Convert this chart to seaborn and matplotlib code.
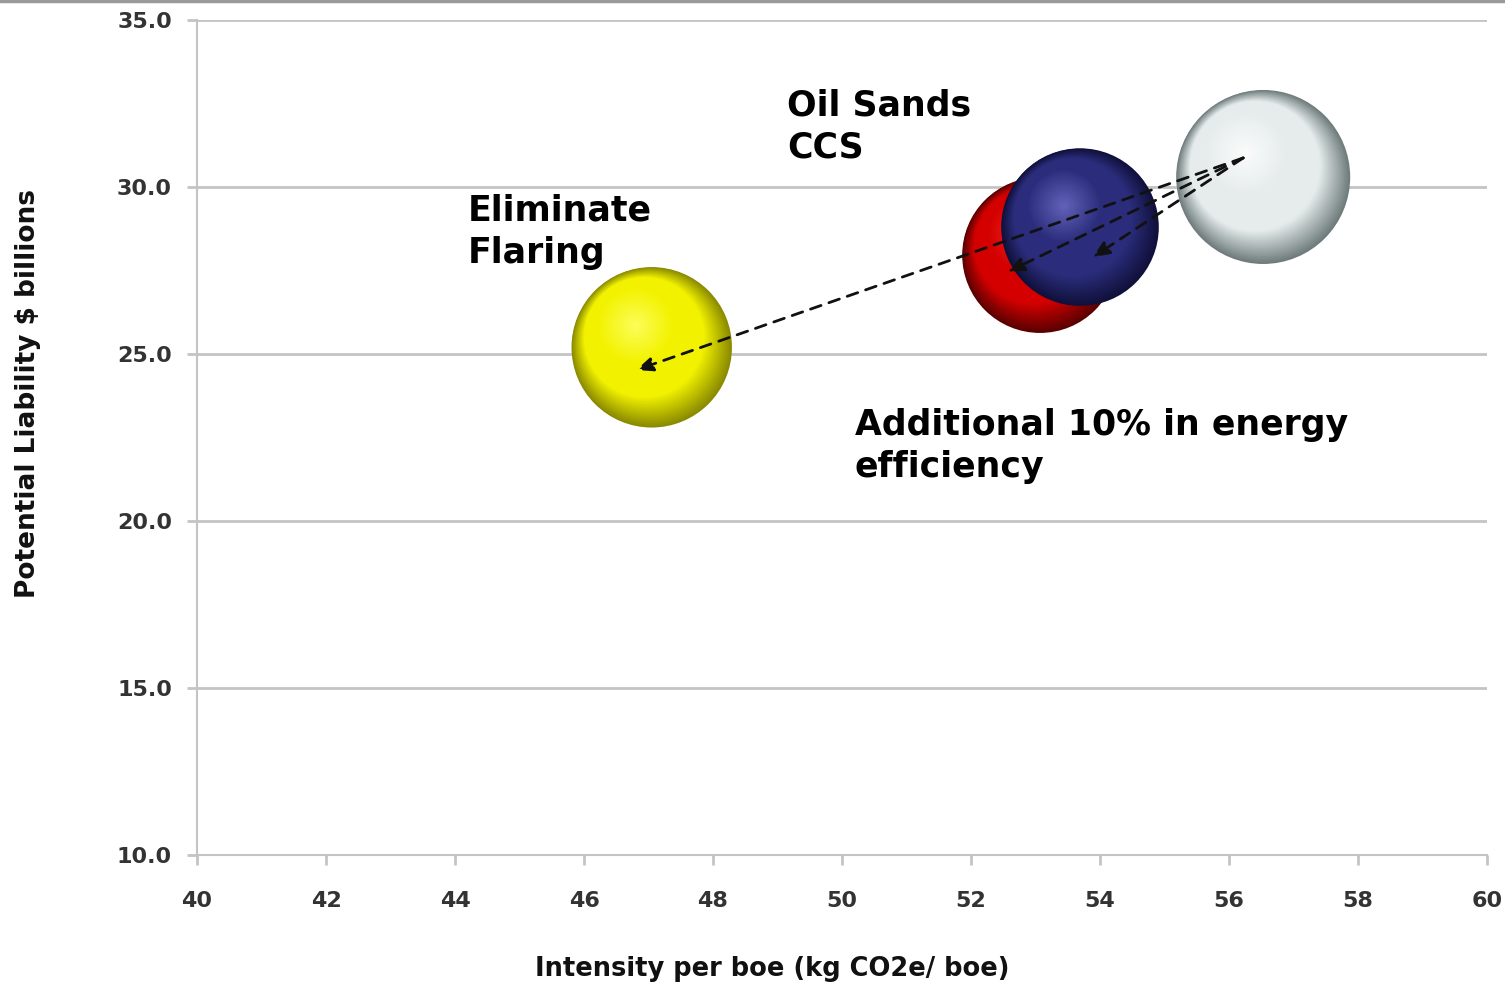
import numpy as np
import pandas as pd
import matplotlib
matplotlib.use("Agg")
import matplotlib.pyplot as plt
from matplotlib.colors import to_rgb
from matplotlib.lines import Line2D
import seaborn as sns

# ---------------- data ----------------
scenario = ["Current", "Oil Sands CCS", "Energy efficiency", "Eliminate Flaring"]
intensity = [56.53, 53.07, 53.69, 47.05]          # kg CO2e / boe
liability = [30.3, 27.96, 28.8, 25.2]             # $ billions
bubble_size = [1.00, 0.80, 0.82, 0.85]            # relative bubble area

# arrows: from current position to each scenario
arrow_start = (56.22, 30.87)
arrow_end_x = [46.81, 52.57, 53.89]
arrow_end_y = [24.52, 27.46, 27.90]

# annotation labels
label_text = ["Oil Sands\nCCS", "Eliminate\nFlaring", "Additional 10% in energy\nefficiency"]
label_x = [49.15, 44.2, 50.2]
label_y = [32.95, 29.8, 23.38]

x_ticks = [40, 42, 44, 46, 48, 50, 52, 54, 56, 58, 60]
y_ticks = [10.0, 15.0, 20.0, 25.0, 30.0, 35.0]

# ---------------- styling ----------------
sphere_colors = {
    "Current": ("#6f7c7c", "#e6ecec", "#ffffff"),
    "Oil Sands CCS": ("#5a0000", "#d40000", "#ff3030"),
    "Energy efficiency": ("#10103a", "#2b2d7c", "#7070c8"),
    "Eliminate Flaring": ("#8a8a00", "#f2f200", "#ffff70"),
}
sphere_z = {"Current": 2, "Oil Sands CCS": 3, "Energy efficiency": 4, "Eliminate Flaring": 5}

sns.set_theme(style="white")
plt.rcParams["font.family"] = ["DejaVu Sans"]

DPI = 100
fig = plt.figure(figsize=(15.05, 9.84), dpi=DPI)
ax = fig.add_axes([197 / 1505, 1 - 855 / 984, 1290 / 1505, 835 / 984])
ax.set_xlim(40, 60)
ax.set_ylim(10, 35)

grid_c = "#c4c4c4"
ax.set_xticks(x_ticks)
ax.set_yticks(y_ticks)
ax.set_xticklabels([str(v) for v in x_ticks])
ax.set_yticklabels([f"{v:.1f}" for v in y_ticks])
ax.yaxis.grid(True, color=grid_c, lw=2)
ax.xaxis.grid(False)
ax.set_axisbelow(True)
for s in ["top", "right"]:
    ax.spines[s].set_visible(False)
for s in ["left", "bottom"]:
    ax.spines[s].set_color(grid_c)
    ax.spines[s].set_linewidth(1.5)
ax.tick_params(axis="both", which="major", length=7, width=2, color=grid_c,
               labelsize=16, labelcolor="#333333", direction="out")
ax.tick_params(axis="x", pad=19, bottom=True)
ax.tick_params(axis="y", pad=11, left=True)
for lab in ax.get_xticklabels() + ax.get_yticklabels():
    lab.set_fontweight("bold")

ax.set_xlabel("Intensity per boe (kg CO2e/ boe)", fontsize=18.5, fontweight="bold", color="#111111")
ax.set_ylabel("Potential Liability $ billions", fontsize=19, fontweight="bold", color="#111111")
ax.xaxis.set_label_coords(0.4457, -0.121)
ax.yaxis.set_label_coords(-0.121, 0.553)

# ---------------- shaded spheres ----------------
df = pd.DataFrame({"scenario": scenario, "x": intensity, "y": liability, "size": bubble_size})
R_MAX = 87.0  # radius in pixels for size 1.0
N = 80
t = np.linspace(0, 1, N)
direction = np.array([-0.6, 0.8])

for _, row in df.iterrows():
    edge, base, hi = (np.array(to_rgb(c)) for c in sphere_colors[row["scenario"]])
    r = R_MAX * np.sqrt(row["size"])
    radii = r * (1 - 0.96 * t)
    shift = np.minimum(0.62 * (r - radii), 0.34 * r)
    cen = ax.transData.transform((row["x"], row["y"]))
    pts = cen[None, :] + shift[:, None] * direction[None, :]
    dpts = ax.transData.inverted().transform(pts)
    knots = [0.0, 0.26, 0.55, 1.0]
    cols = []
    for tt in t:
        c = np.array([np.interp(tt, knots, [edge[k], base[k], base[k], base[k] * 0.25 + hi[k] * 0.75])
                      for k in range(3)])
        cols.append(tuple(np.clip(c, 0, 1)))
    layer = [f"L{i}" for i in range(N)]
    sizes = (2 * radii * 72 / DPI) ** 2
    sns.scatterplot(x=dpts[:, 0], y=dpts[:, 1], hue=layer, hue_order=layer, palette=cols,
                    s=sizes, linewidth=0, legend=False, ax=ax, zorder=sphere_z[row["scenario"]])

# ---------------- arrows ----------------
for ex, ey in zip(arrow_end_x, arrow_end_y):
    ax.annotate("", xy=(ex, ey), xytext=arrow_start,
                arrowprops=dict(arrowstyle="-|>,head_length=0.7,head_width=0.3",
                                linestyle=(0, (4, 3)), lw=2, color="#111111",
                                shrinkA=0, shrinkB=0, mutation_scale=14),
                zorder=10)

# ---------------- labels ----------------
for txt, lx, ly in zip(label_text, label_x, label_y):
    ax.text(lx, ly, txt, fontsize=25, fontweight="bold", color="black",
            ha="left", va="top", linespacing=1.3, zorder=11)

fig.add_artist(Line2D([0, 1], [0.999, 0.999], color="#9a9a9a", lw=2.5, transform=fig.transFigure))

fig.savefig("out.png", dpi=DPI, facecolor="white")
